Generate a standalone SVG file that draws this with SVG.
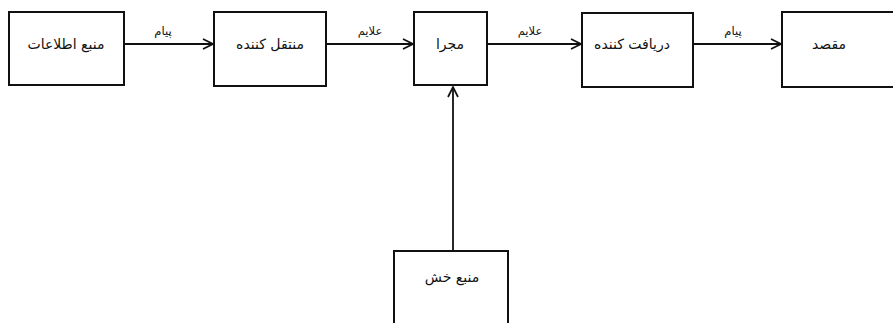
<svg xmlns="http://www.w3.org/2000/svg" width="893" height="323" viewBox="0 0 893 323">
<style>
.box{fill:#fff;stroke:#111;stroke-width:2}
.ln{fill:none;stroke:#111;stroke-width:1.8}
.t{font-family:"DejaVu Sans",sans-serif;font-size:14px;fill:#111;text-anchor:middle;direction:rtl}
.lb{font-family:"DejaVu Sans",sans-serif;font-size:11.5px;fill:#111;text-anchor:middle;direction:rtl}
</style>
<defs>
<marker id="ar" viewBox="0 0 12 12" refX="11" refY="6" markerWidth="12" markerHeight="12" markerUnits="userSpaceOnUse" orient="auto">
<path d="M1,1 L11,6 L1,11" fill="none" stroke="#111" stroke-width="1.7"/>
</marker>
</defs>
<rect width="893" height="323" fill="#fff"/>
<g id="source"><rect class="box" x="9" y="12" width="115" height="73"/><text class="t" x="66" y="49">منبع اطلاعات</text></g>
<g id="transmitter"><rect class="box" x="214" y="12" width="112" height="74"/><text class="t" x="270" y="49">منتقل کننده</text></g>
<g id="channel"><rect class="box" x="414" y="12" width="73" height="73"/><text class="t" x="450" y="49">مجرا</text></g>
<g id="receiver"><rect class="box" x="582" y="13" width="111" height="74"/><text class="t" x="632" y="49">دریافت کننده</text></g>
<g id="destination"><rect class="box" x="782" y="12" width="120" height="75"/><text class="t" x="829" y="49">مقصد</text></g>
<g id="noise"><rect class="box" x="394" y="251" width="114" height="90"/><text class="t" x="452" y="282">منبع خش</text></g>
<g id="connectors">
<line class="ln" x1="124" y1="44" x2="213" y2="44" marker-end="url(#ar)"/>
<line class="ln" x1="326" y1="44" x2="413" y2="44" marker-end="url(#ar)"/>
<line class="ln" x1="487" y1="44" x2="581" y2="44" marker-end="url(#ar)"/>
<line class="ln" x1="693" y1="44" x2="781" y2="44" marker-end="url(#ar)"/>
<line class="ln" x1="453" y1="251" x2="453" y2="87" marker-end="url(#ar)"/>
<text class="lb" x="163" y="35">پیام</text>
<text class="lb" x="370" y="35">علایم</text>
<text class="lb" x="530" y="35">علایم</text>
<text class="lb" x="733" y="35">پیام</text>
</g>
</svg>
